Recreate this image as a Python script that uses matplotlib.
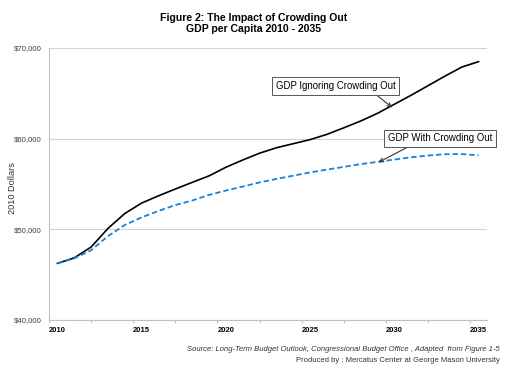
import matplotlib.pyplot as plt
import numpy as np
from matplotlib.ticker import FuncFormatter

plt.rcParams['font.family'] = ['Liberation Sans', 'DejaVu Sans']

years = list(range(2010, 2036))
gdp_ignoring = [46250, 46850, 48050, 50100, 51750, 52900, 53700, 54450, 55180, 55900,
                56850, 57650, 58400, 59000, 59450, 59900, 60480, 61200, 61950, 62800,
                63800, 64800, 65850, 66900, 67900, 68500]
gdp_with = [46250, 46800, 47700, 49250, 50480, 51320, 52030, 52680, 53180, 53800,
            54280, 54720, 55180, 55560, 55920, 56280, 56590, 56890, 57200, 57440,
            57700, 57950, 58140, 58290, 58300, 58160]
y_ticks = [40000, 50000, 60000, 70000]
x_ticks = [2010, 2015, 2020, 2025, 2030, 2035]

fig = plt.figure(figsize=(5.08, 3.71), dpi=100)
ax = fig.add_axes([0.0965, 0.1375, 0.8622, 0.733])

ax.plot(years, gdp_ignoring, color='black', lw=1.2, zorder=3)
ax.plot(years, gdp_with, color='#1e7fd6', lw=1.3, ls=(0, (3, 1.6)), zorder=3)

ax.set_xlim(2009.5, 2035.5)
ax.set_ylim(40000, 70000)
ax.set_yticks(y_ticks)
ax.yaxis.set_major_formatter(FuncFormatter(lambda v, p: '${:,.0f}'.format(v)))
ax.set_xticks(x_ticks)
ax.set_xticks(np.arange(2009.5, 2036, 2.5), minor=True)
ax.grid(axis='y', color='#d4d4d4', lw=0.8)
ax.set_axisbelow(True)

for s in ['top', 'right']:
    ax.spines[s].set_visible(False)
for s in ['left', 'bottom']:
    ax.spines[s].set_color('#bfbfbf')
    ax.spines[s].set_linewidth(0.8)

ax.tick_params(axis='y', length=0, labelsize=5.6, labelcolor='#404040', pad=5)
ax.tick_params(axis='x', which='major', length=0, labelsize=5.5, pad=5)
ax.tick_params(axis='x', which='minor', length=2.5, color='#bfbfbf', width=0.8)
for lbl in ax.get_xticklabels():
    lbl.set_fontweight('bold')

ax.set_ylabel('2010 Dollars', fontsize=6.6, color='#333333')
ax.yaxis.set_label_coords(-0.074, 0.485)

fig.text(0.5, 0.966, 'Figure 2: The Impact of Crowding Out\nGDP per Capita 2010 - 2035',
         ha='center', va='top', fontsize=7.6, fontweight='bold', linespacing=1.2)

box = dict(boxstyle='square,pad=0.4', fc='white', ec='#555555', lw=0.7)
ax.annotate('GDP Ignoring Crowding Out', xy=(2029.87, 63440),
            xytext=(2026.5, 65830), fontsize=6.9, ha='center', va='center',
            bbox=box, arrowprops=dict(arrowstyle='->', color='#333333', lw=0.8,
                                      shrinkA=0, shrinkB=0, relpos=(0.8, 0)))
ax.annotate('GDP With Crowding Out', xy=(2029.06, 57400),
            xytext=(2032.7, 60030), fontsize=6.9, ha='center', va='center',
            bbox=box, arrowprops=dict(arrowstyle='->', color='#333333', lw=0.8,
                                      shrinkA=0, shrinkB=0, relpos=(0.26, 0)),
            annotation_clip=False)

fig.text(0.984, 0.059, 'Source: Long-Term Budget Outlook, Congressional Budget Office , Adapted  from Figure 1-5',
         ha='right', va='center', fontsize=5.5, style='italic', color='#333333')
fig.text(0.984, 0.029, 'Produced by : Mercatus Center at George Mason University',
         ha='right', va='center', fontsize=5.5, color='#333333')

fig.savefig('out.png', dpi=100)
